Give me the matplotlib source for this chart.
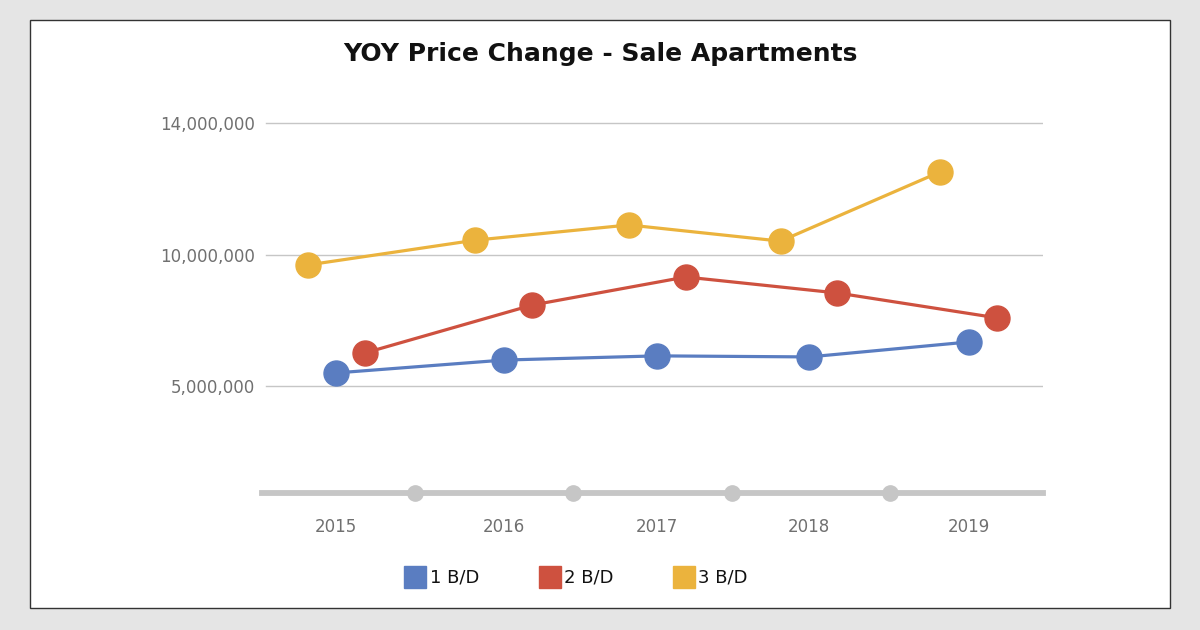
import numpy as np
import matplotlib.pyplot as plt
from matplotlib.patches import Rectangle
from matplotlib.lines import Line2D

years = ['2015', '2016', '2017', '2018', '2019']
year_pos = [0.0, 1.06, 2.03, 2.99, 4.0]
series = ['1 B/D', '2 B/D', '3 B/D']
bd1 = [5.50e6, 5.99e6, 6.15e6, 6.11e6, 6.68e6]
bd2 = [6.26e6, 8.09e6, 9.16e6, 8.55e6, 7.60e6]
bd3 = [9.62e6, 10.45e6, 10.91e6, 10.42e6, 12.52e6]
yticks = [5e6, 10e6, 14e6]

colors = ['#5A7DC1', '#CE513F', '#EBB33D']
offsets = [0.0, 0.18, -0.18]
grey = '#C6C6C6'
txt = '#707070'

# the value axis of the original is not even: 0-5M, 5-10M and 10-14M get different room
knots_v = [0, 5e6, 10e6, 14e6, 20e6]
knots_u = [0, 107, 238, 370, 568]


def fwd(v):
    return np.interp(v, knots_v, knots_u)


def inv(u):
    return np.interp(u, knots_u, knots_v)


fig = plt.figure(figsize=(12, 6.3), dpi=100)
fig.patch.set_facecolor('#E5E5E5')
fig.patches.append(Rectangle((30 / 1200, 22 / 630), 1140 / 1200, 588 / 630,
                             transform=fig.transFigure, facecolor='white',
                             edgecolor='#333333', linewidth=1, zorder=-5))

ax = fig.add_axes([262 / 1200, (630 - 493) / 630, 781 / 1200, 383 / 630])
ax.set_facecolor('none')
ax.set_yscale('function', functions=(fwd, inv))
ax.set_ylim(0, inv(383))
ax.set_xlim(-0.47, 4.47)

x = np.array(year_pos)
for vals, c, off in zip([bd1, bd2, bd3], colors, offsets):
    ax.plot(x + off, vals, color=c, lw=2.3, marker='o', markersize=18,
            zorder=3, clip_on=False)

for t in yticks:
    ax.axhline(t, xmin=0.005, color=grey, lw=1, zorder=1)

# baseline with dots between years
ax.axhline(0, color=grey, lw=4.2, zorder=2, clip_on=False)
ax.plot(np.arange(len(years) - 1) + 0.5, [0] * (len(years) - 1), 'o', color=grey,
        markersize=11, zorder=2, clip_on=False)

ax.set_yticks(yticks)
ax.set_yticklabels(['{:,.0f}'.format(t) for t in yticks])
ax.set_xticks(x)
ax.set_xticklabels(years)
ax.tick_params(axis='both', length=0, colors=txt, labelsize=12)
ax.tick_params(axis='y', pad=5)
ax.tick_params(axis='x', pad=18)
for s in ax.spines.values():
    s.set_visible(False)

fig.text(0.5, (630 - 54) / 630, 'YOY Price Change - Sale Apartments',
         ha='center', va='center', fontsize=18, fontweight='bold', color='#111111')

handles = [Line2D([], [], ls='none', marker='s', markersize=16, color=c) for c in colors]
fig.legend(handles, series, loc='center', bbox_to_anchor=(0.481, (630 - 578) / 630),
           ncol=3, frameon=False, fontsize=13, handletextpad=0.3,
           columnspacing=3.4, handlelength=1.0, labelcolor='#111111')

fig.savefig('out.png', dpi=100, facecolor=fig.get_facecolor())
